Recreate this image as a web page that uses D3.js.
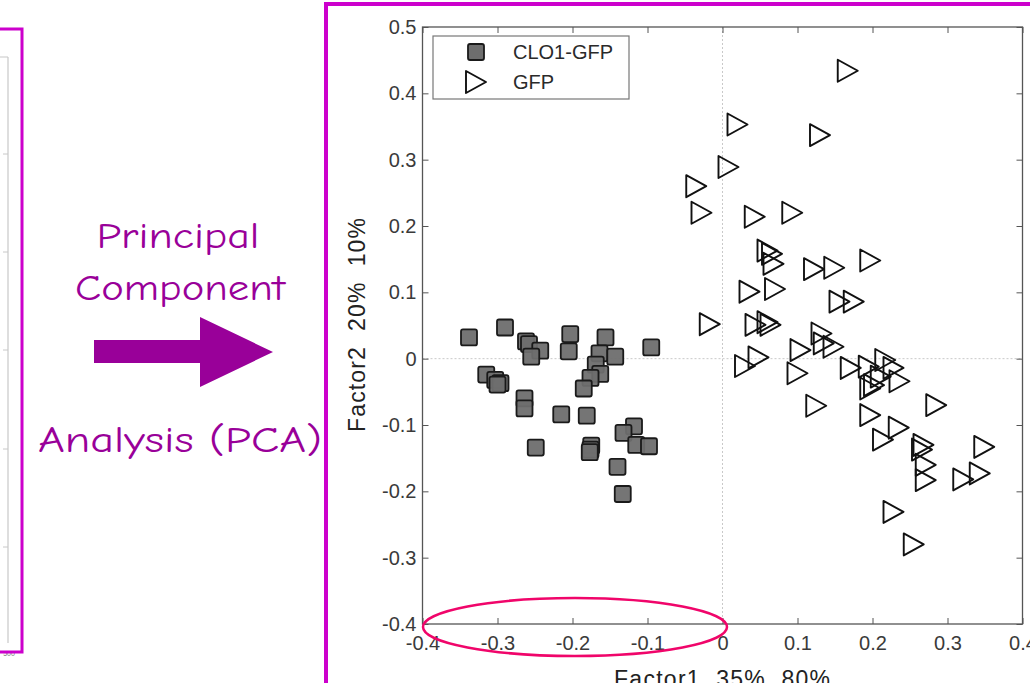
<!DOCTYPE html>
<html>
  <head>
    <meta charset="UTF-8" />
    <title>PCA scatter</title>
    <style>
      body { margin: 0; background: #fff; }
      svg { display: block; }
      .tick-label { font-family: "Liberation Sans", Arial, sans-serif; font-size: 20px; fill: #3a3a3a; }
      .hand { font-family: "Comic Sans MS", "Comic Neue", "Noto Sans", sans-serif; font-size: 37px; fill: #990099; }
    </style>
  </head>
  <body>
    <div id="chart"></div>
    <script src="https://cdnjs.cloudflare.com/ajax/libs/d3/7.8.5/d3.min.js"></script>
    <script>
// CLO1-GFP samples (filled squares)
const cloX = [-0.338, -0.290, -0.262, -0.258, -0.243, -0.255, -0.203, -0.205, -0.156, -0.164, -0.143, -0.095,
              -0.169, -0.163, -0.176, -0.185, -0.315, -0.303, -0.296, -0.300, -0.264, -0.264, -0.215, -0.181,
              -0.249, -0.175, -0.176, -0.177, -0.118, -0.132, -0.115, -0.098, -0.140, -0.133];
const cloY = [0.032, 0.047, 0.026, 0.022, 0.012, 0.003, 0.037, 0.011, 0.032, 0.008, 0.003, 0.017,
              -0.009, -0.023, -0.029, -0.045, -0.024, -0.032, -0.037, -0.039, -0.060, -0.075, -0.084, -0.086,
              -0.134, -0.131, -0.137, -0.141, -0.102, -0.112, -0.130, -0.132, -0.163, -0.204];
// GFP samples (open triangles)
const gfpX = [0.167, 0.020, 0.130, 0.008, -0.035, -0.028, 0.043, 0.093, 0.060, 0.066, 0.068, 0.122, 0.149, 0.197,
              0.036, 0.070, 0.156, 0.175, -0.017, 0.044, 0.060, 0.064, 0.132, 0.135, 0.148, 0.104, 0.030, 0.048,
              0.100, 0.171, 0.195, 0.217, 0.202, 0.197, 0.211, 0.228, 0.236, 0.125, 0.285, 0.197, 0.235, 0.214,
              0.268, 0.266, 0.271, 0.271, 0.349, 0.321, 0.343, 0.228, 0.255];
const gfpY = [0.434, 0.353, 0.337, 0.289, 0.260, 0.220, 0.214, 0.220, 0.163, 0.158, 0.143, 0.135, 0.137, 0.148,
              0.101, 0.105, 0.086, 0.086, 0.052, 0.051, 0.055, 0.051, 0.038, 0.023, 0.018, 0.013, -0.011, 0.002,
              -0.022, -0.014, -0.012, -0.002, -0.040, -0.045, -0.027, -0.014, -0.034, -0.071, -0.070, -0.085, -0.104, -0.122,
              -0.130, -0.137, -0.160, -0.183, -0.133, -0.182, -0.173, -0.231, -0.280];
const xTicks = [-0.4, -0.3, -0.2, -0.1, 0, 0.1, 0.2, 0.3, 0.4];
const yTicks = [-0.4, -0.3, -0.2, -0.1, 0, 0.1, 0.2, 0.3, 0.4, 0.5];
const legendNames = ['CLO1-GFP', 'GFP'];
const sideTicks = [154, 252, 350, 449, 547];

const width = 1030, height = 683,
      frameColor = '#cc00cc', textColor = '#990099';

const svg = d3.select('#chart').append('svg')
              .attr('width', width)
              .attr('height', height);

// ---- left panel remnant ----
const left = svg.append('g');
left.append('path')
    .attr('d', 'M8,57 L8,643 M0,57 L8,57')
    .attr('fill', 'none')
    .attr('stroke', '#c8c8c8')
    .attr('stroke-width', 1.2);
left.selectAll('.side-tick')
    .data(sideTicks)
    .enter()
    .append('line')
      .attr('x1', 3).attr('x2', 8)
      .attr('y1', d => d).attr('y2', d => d)
      .attr('stroke', '#c8c8c8');
left.append('text')
    .attr('x', 9).attr('y', 656)
    .attr('text-anchor', 'middle')
    .style('font-family', 'Liberation Sans, Arial, sans-serif')
    .style('font-size', '7px')
    .style('fill', '#777')
    .text('500');
left.append('path')
    .attr('d', 'M0,29 L22,29 L22,652 L0,652')
    .attr('fill', 'none')
    .attr('stroke', frameColor)
    .attr('stroke-width', 3);

// ---- arrow and caption ----
const mid = svg.append('g');
const captions = [
  {t: 'Principal', x: 178, y: 248, w: 163},
  {t: 'Component', x: 180, y: 300, w: 210},
  {t: 'Analysis (PCA)', x: 180, y: 452, w: 284}
];
mid.selectAll('.hand')
   .data(captions)
   .enter()
   .append('text')
     .attr('class', 'hand')
     .attr('x', d => d.x)
     .attr('y', d => d.y)
     .attr('text-anchor', 'middle')
     .attr('textLength', d => d.w)
     .attr('lengthAdjust', 'spacingAndGlyphs')
     .text(d => d.t);
mid.append('path')
   .attr('d', 'M94,340 L200,340 L200,317 L273,352 L200,387 L200,363 L94,363 Z')
   .attr('fill', textColor);

// ---- main scatter ----
const x = d3.scaleLinear().domain([-0.4, 0.4]).range([422.5, 1022.5]),
      y = d3.scaleLinear().domain([-0.4, 0.5]).range([624, 27]);
const fmt = d => String(d);   // plain hyphen, matlab style

const plot = svg.append('g');

// zero reference lines
plot.append('line')
    .attr('x1', x(0)).attr('x2', x(0))
    .attr('y1', y(0.5)).attr('y2', y(-0.4))
    .attr('stroke', '#c9c9c9').attr('stroke-dasharray', '2,2');
plot.append('line')
    .attr('x1', x(-0.4)).attr('x2', x(0.4))
    .attr('y1', y(0)).attr('y2', y(0))
    .attr('stroke', '#c9c9c9').attr('stroke-dasharray', '2,2');

// axes, ticks inside like matlab
plot.append('g')
    .attr('transform', `translate(0,${y(-0.4)})`)
    .call(d3.axisBottom(x).tickValues(xTicks).tickSize(-6).tickPadding(12).tickFormat(fmt))
    .call(g => g.select('.domain').remove())
    .call(g => g.selectAll('line').attr('stroke', '#555'))
    .call(g => g.selectAll('text').attr('class', 'tick-label'));
plot.append('g')
    .attr('transform', `translate(0,${y(0.5)})`)
    .call(d3.axisTop(x).tickValues(xTicks).tickSize(-6).tickFormat(''))
    .call(g => g.select('.domain').remove())
    .call(g => g.selectAll('line').attr('stroke', '#555'));
plot.append('g')
    .attr('transform', `translate(${x(-0.4)},0)`)
    .call(d3.axisLeft(y).tickValues(yTicks).tickSize(-6).tickPadding(6).tickFormat(fmt))
    .call(g => g.select('.domain').remove())
    .call(g => g.selectAll('line').attr('stroke', '#555'))
    .call(g => g.selectAll('text').attr('class', 'tick-label'));
plot.append('g')
    .attr('transform', `translate(${x(0.4)},0)`)
    .call(d3.axisRight(y).tickValues(yTicks).tickSize(-6).tickFormat(''))
    .call(g => g.select('.domain').remove())
    .call(g => g.selectAll('line').attr('stroke', '#555'));
plot.append('rect')
    .attr('x', x(-0.4)).attr('y', y(0.5))
    .attr('width', x(0.4) - x(-0.4))
    .attr('height', y(-0.4) - y(0.5))
    .attr('fill', 'none')
    .attr('stroke', '#555')
    .attr('stroke-width', 1.3);

// axis titles
svg.append('text')
   .attr('x', 722).attr('y', 687)
   .attr('text-anchor', 'middle')
   .attr('textLength', 216)
   .attr('lengthAdjust', 'spacing')
   .style('font-family', 'Liberation Sans, Arial, sans-serif')
   .style('font-size', '23px')
   .style('fill', '#222')
   .style('white-space', 'pre')
   .text('Factor1  35%  80%');
svg.append('text')
   .attr('transform', 'translate(365,325) rotate(-90)')
   .attr('text-anchor', 'middle')
   .attr('textLength', 214)
   .attr('lengthAdjust', 'spacing')
   .style('font-family', 'Liberation Sans, Arial, sans-serif')
   .style('font-size', '23px')
   .style('fill', '#222')
   .style('white-space', 'pre')
   .text('Factor2  20%  10%');

// markers
const sq = 16, tw = 20, th = 22;
const triPath = `M${-tw / 2},${-th / 2} L${tw / 2},0 L${-tw / 2},${th / 2} Z`;

plot.append('g')
    .selectAll('.gfp')
    .data(d3.range(gfpX.length))
    .enter()
    .append('path')
      .attr('class', 'gfp')
      .attr('transform', i => `translate(${x(gfpX[i])},${y(gfpY[i])})`)
      .attr('d', triPath)
      .attr('fill', 'none')
      .attr('stroke', '#111')
      .attr('stroke-width', 1.9)
      .attr('stroke-linejoin', 'round');

plot.append('g')
    .selectAll('.clo')
    .data(d3.range(cloX.length))
    .enter()
    .append('rect')
      .attr('class', 'clo')
      .attr('x', i => x(cloX[i]) - sq / 2)
      .attr('y', i => y(cloY[i]) - sq / 2)
      .attr('width', sq).attr('height', sq)
      .attr('rx', 2)
      .attr('fill', '#6e6e6e')
      .attr('fill-opacity', 0.95)
      .attr('stroke', '#1a1a1a')
      .attr('stroke-width', 1.8);

// legend
const legend = svg.append('g');
legend.append('rect')
      .attr('x', 433).attr('y', 36)
      .attr('width', 196).attr('height', 63)
      .attr('fill', '#fff')
      .attr('stroke', '#777')
      .attr('stroke-width', 1.2);
legend.append('rect')
      .attr('x', 476 - sq / 2).attr('y', 52 - sq / 2)
      .attr('width', sq).attr('height', sq)
      .attr('rx', 2)
      .attr('fill', '#6e6e6e')
      .attr('stroke', '#1a1a1a')
      .attr('stroke-width', 1.8);
legend.append('path')
      .attr('transform', 'translate(476,82)')
      .attr('d', triPath)
      .attr('fill', 'none')
      .attr('stroke', '#111')
      .attr('stroke-width', 1.9)
      .attr('stroke-linejoin', 'round');
legend.selectAll('.leg-text')
      .data(legendNames)
      .enter()
      .append('text')
        .attr('x', 513)
        .attr('y', (d, i) => 59 + i * 30)
        .style('font-family', 'Liberation Sans, Arial, sans-serif')
        .style('font-size', '20px')
        .style('fill', '#2a2a2a')
        .text(d => d);

// right frame and highlight ellipse
svg.append('path')
   .attr('d', `M326,${height} L326,4 L${width},4`)
   .attr('fill', 'none')
   .attr('stroke', frameColor)
   .attr('stroke-width', 4);
svg.append('ellipse')
   .attr('cx', 575).attr('cy', 627)
   .attr('rx', 152).attr('ry', 29)
   .attr('fill', 'none')
   .attr('stroke', '#f0056a')
   .attr('stroke-width', 2.5);
    </script>
  </body>
</html>
